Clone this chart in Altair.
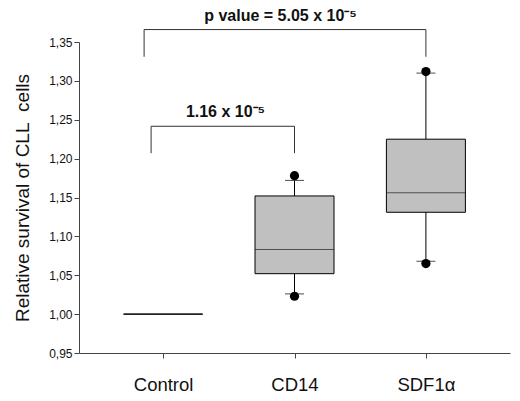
import altair as alt
import pandas as pd

categories = ["Control", "CD14", "SDF1α"]
q1 = [1.000, 1.052, 1.131]
median = [1.000, 1.083, 1.156]
q3 = [1.000, 1.152, 1.225]
whisker_low = [None, 1.026, 1.068]
whisker_high = [None, 1.172, 1.310]
point_low = [None, 1.023, 1.065]
point_high = [None, 1.178, 1.312]

bracket_left = ["Control", "Control"]
bracket_right = ["SDF1α", "CD14"]
bracket_top = [1.366, 1.2416]
bracket_bottom = [1.331, 1.207]
bracket_label = ["p value = 5.05 x 10⁻⁵", "1.16 x 10⁻⁵"]
label_y = [1.383, 1.2596]
y_ticks = [0.95, 1.00, 1.05, 1.10, 1.15, 1.20, 1.25, 1.30, 1.35]

FONT = "Liberation Sans"

box = pd.DataFrame({"cat": categories, "q1": q1, "median": median, "q3": q3,
                    "wlo": whisker_low, "whi": whisker_high,
                    "plo": point_low, "phi": point_high})
stats = box[box["wlo"].notna()]

xs = alt.Scale(type="point", domain=categories, padding=0.64)
ys = alt.Scale(domain=[0.95, 1.35], nice=False, zero=False)

x_axis = alt.Axis(title=None, labelAngle=0, labelFontSize=18.5, labelPadding=17,
                  tickSize=5, labelColor="#111", labelFont=FONT,
                  domainColor="#444", tickColor="#444")
y_axis = alt.Axis(title="Relative survival of CLL\u00a0 cells",
                  values=y_ticks,
                  labelExpr="replace(format(datum.value, '.2f'), '.', ',')",
                  labelOverlap=False,
                  labelFontSize=12, labelFont=FONT, labelColor="#111",
                  titleFontSize=19, titleFont=FONT, titleFontWeight="normal",
                  titleColor="#111", titlePadding=16, tickSize=5, grid=False,
                  domainColor="#444", tickColor="#444")


def xn(field):
    return alt.X(field, scale=xs, axis=x_axis, sort=categories)


def yq(field):
    return alt.Y(field, scale=ys, axis=y_axis)


base_stats = alt.Chart(stats)

boxes = alt.Chart(box).mark_bar(size=79, fill="#c0c0c0", stroke="black", strokeWidth=1).encode(
    x=xn("cat:N"), y=yq("q1:Q"), y2="q3:Q")
whisk_hi = base_stats.mark_rule(color="black", strokeWidth=1).encode(
    x=xn("cat:N"), y=yq("q3:Q"), y2="whi:Q")
whisk_lo = base_stats.mark_rule(color="black", strokeWidth=1).encode(
    x=xn("cat:N"), y=yq("wlo:Q"), y2="q1:Q")
med = alt.Chart(box).mark_tick(size=79, thickness=1, color="#222").encode(
    x=xn("cat:N"), y=yq("median:Q"))
cap_hi = base_stats.mark_tick(size=19, thickness=1, color="black").encode(
    x=xn("cat:N"), y=yq("whi:Q"))
cap_lo = base_stats.mark_tick(size=19, thickness=1, color="black").encode(
    x=xn("cat:N"), y=yq("wlo:Q"))
pt_hi = base_stats.mark_circle(size=85, color="black", opacity=1).encode(
    x=xn("cat:N"), y=yq("phi:Q"))
pt_lo = base_stats.mark_circle(size=85, color="black", opacity=1).encode(
    x=xn("cat:N"), y=yq("plo:Q"))

layers = [boxes, whisk_hi, whisk_lo, med, cap_hi, cap_lo, pt_hi, pt_lo]

left_offsets = [-19, -12]
label_offsets = [-14, -69]
label_anchor = ["CD14", "CD14"]
for i in range(len(bracket_left)):
    d = pd.DataFrame({"l": [bracket_left[i]], "r": [bracket_right[i]],
                      "top": [bracket_top[i]], "bot": [bracket_bottom[i]],
                      "lab": [bracket_label[i]], "ly": [label_y[i]], "la": [label_anchor[i]]})
    c = alt.Chart(d)
    layers.append(c.mark_rule(color="#333", strokeWidth=1, xOffset=left_offsets[i]).encode(
        x=xn("l:N"), x2="r:N", y=yq("top:Q")))
    layers.append(c.mark_rule(color="#333", strokeWidth=1, xOffset=left_offsets[i]).encode(
        x=xn("l:N"), y=yq("top:Q"), y2="bot:Q"))
    layers.append(c.mark_rule(color="#333", strokeWidth=1).encode(
        x=xn("r:N"), y=yq("top:Q"), y2="bot:Q"))
    layers.append(c.mark_text(font=FONT, fontSize=16, fontWeight="bold", color="#111",
                              baseline="middle", align="center", dx=label_offsets[i]).encode(
        x=xn("la:N"), y=yq("ly:Q"), text="lab:N"))

chart = alt.layer(*layers).properties(
    width=431, height=311,
    autosize=alt.AutoSizeParams(type="none"),
    padding={"left": 71, "top": 34, "right": 2, "bottom": 46},
    background="white",
).configure_view(strokeWidth=0)

chart.save("out.html", embed_options={"renderer": "svg", "actions": False})
